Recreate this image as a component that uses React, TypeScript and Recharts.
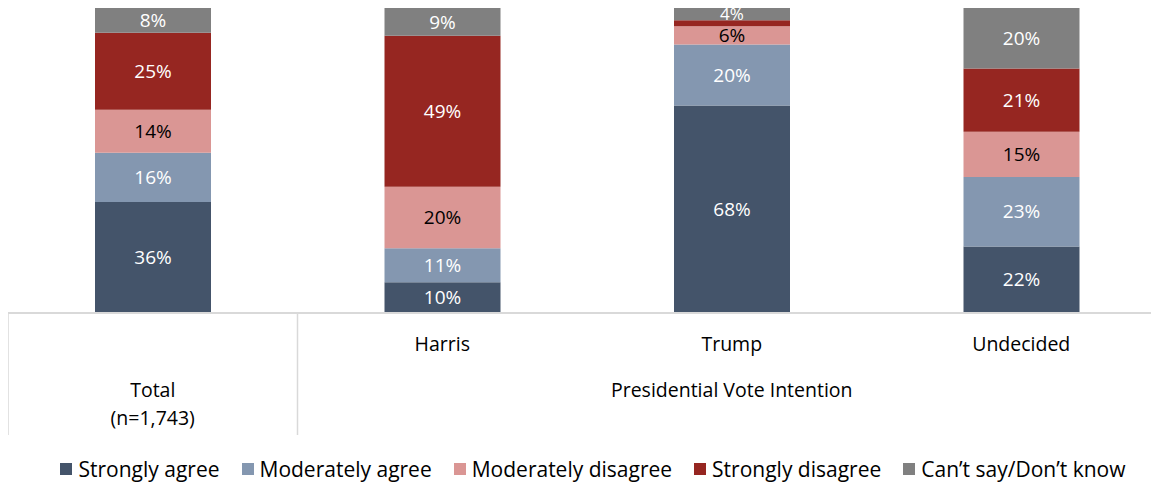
import React from 'react';
import { BarChart, Bar, XAxis, YAxis, Legend, LabelList } from 'recharts';

const categories = ['Total', 'Harris', 'Trump', 'Undecided'];
const stronglyAgree = [36, 10, 68, 22];
const moderatelyAgree = [16, 11, 20, 23];
const moderatelyDisagree = [14, 20, 6, 15];
const stronglyDisagree = [25, 49, 2, 21];
const cantSay = [8, 9, 4, 20];

const SERIES = [
  { key: 'sa', name: 'Strongly agree', values: stronglyAgree, color: '#44546a', text: '#ffffff' },
  { key: 'ma', name: 'Moderately agree', values: moderatelyAgree, color: '#8497b0', text: '#ffffff' },
  { key: 'md', name: 'Moderately disagree', values: moderatelyDisagree, color: '#da9694', text: '#000000' },
  { key: 'sd', name: 'Strongly disagree', values: stronglyDisagree, color: '#962621', text: '#ffffff' },
  { key: 'cs', name: 'Can\u2019t say/Don\u2019t know', values: cantSay, color: '#808080', text: '#ffffff' },
];

const data = categories.map((c, i) => {
  const row: Record<string, string | number> = { name: c };
  SERIES.forEach(s => { row[s.key] = s.values[i]; });
  return row;
});

const FONT = '"Open Sans", sans-serif';
const CHART_W = 1158;
const CHART_H = 477;
const BAND = CHART_W / categories.length;

function makeLabel(color: string) {
  return (props: any) => {
    const { x, y, width, height, value } = props;
    if (value < 3) return null;
    // the thin Trump "4%" segment gets a slightly smaller label, as in Excel
    const fs = height < 16 ? 17 : 19;
    return (
      <text
        x={x + width / 2}
        y={y + height / 2}
        dy="0.35em"
        textAnchor="middle"
        fill={color}
        fontSize={fs}
        fontFamily={FONT}
      >
        {value}%
      </text>
    );
  };
}

function CategoryTick(props: any) {
  const { x, y, payload, index } = props;
  const lineColor = '#d9d9d9';
  const fs = 19.5;
  if (index === 0) {
    return (
      <g>
        <line x1={x - BAND / 2} y1={y - 8} x2={x - BAND / 2} y2={y + 114} stroke={lineColor} strokeWidth={1.5} />
        <line x1={x + BAND / 2} y1={y - 8} x2={x + BAND / 2} y2={y + 114} stroke={lineColor} strokeWidth={1.5} />
        <text x={x} y={y + 76} textAnchor="middle" fontSize={fs} fontFamily={FONT} fill="#000">
          {payload.value}
        </text>
        <text x={x} y={y + 104} textAnchor="middle" fontSize={fs} fontFamily={FONT} fill="#000">
          (n=1,743)
        </text>
      </g>
    );
  }
  return (
    <g>
      <text x={x} y={y + 30} textAnchor="middle" fontSize={fs} fontFamily={FONT} fill="#000">
        {payload.value}
      </text>
      {index === 2 && (
        <text x={x} y={y + 76} textAnchor="middle" fontSize={fs} fontFamily={FONT} fill="#000">
          Presidential Vote Intention
        </text>
      )}
    </g>
  );
}

function LegendContent() {
  return (
    <div
      style={{
        height: 32,
        display: 'flex',
        justifyContent: 'center',
        alignItems: 'center',
        gap: 22,
        fontFamily: FONT,
        fontSize: 21,
        color: '#000',
        paddingLeft: 12,
        whiteSpace: 'nowrap',
      }}
    >
      {SERIES.map(s => (
        <div key={s.key} style={{ display: 'flex', alignItems: 'center' }}>
          <span style={{ width: 12, height: 12, background: s.color, marginRight: 6, display: 'inline-block' }} />
          <span>{s.name}</span>
        </div>
      ))}
    </div>
  );
}

export default function App() {
  return (
    <div style={{ width: 1151, height: CHART_H, overflow: 'hidden' }}>
      <BarChart
        width={CHART_W}
        height={CHART_H}
        data={data}
        margin={{ top: 0, right: 0, left: 0, bottom: 0 }}
        barCategoryGap={0}
        stackOffset="expand"
      >
        <XAxis
          dataKey="name"
          height={140}
          tickLine={false}
          axisLine={{ stroke: '#d9d9d9', strokeWidth: 2 }}
          tick={<CategoryTick />}
          interval={0}
        />
        <YAxis hide domain={[0, 1]} />
        <Legend verticalAlign="bottom" content={<LegendContent />} />
        {SERIES.map(s => (
          <Bar
            key={s.key}
            dataKey={s.key}
            name={s.name}
            stackId="a"
            fill={s.color}
            barSize={116}
            isAnimationActive={false}
          >
            <LabelList dataKey={s.key} content={makeLabel(s.text)} />
          </Bar>
        ))}
      </BarChart>
    </div>
  );
}
